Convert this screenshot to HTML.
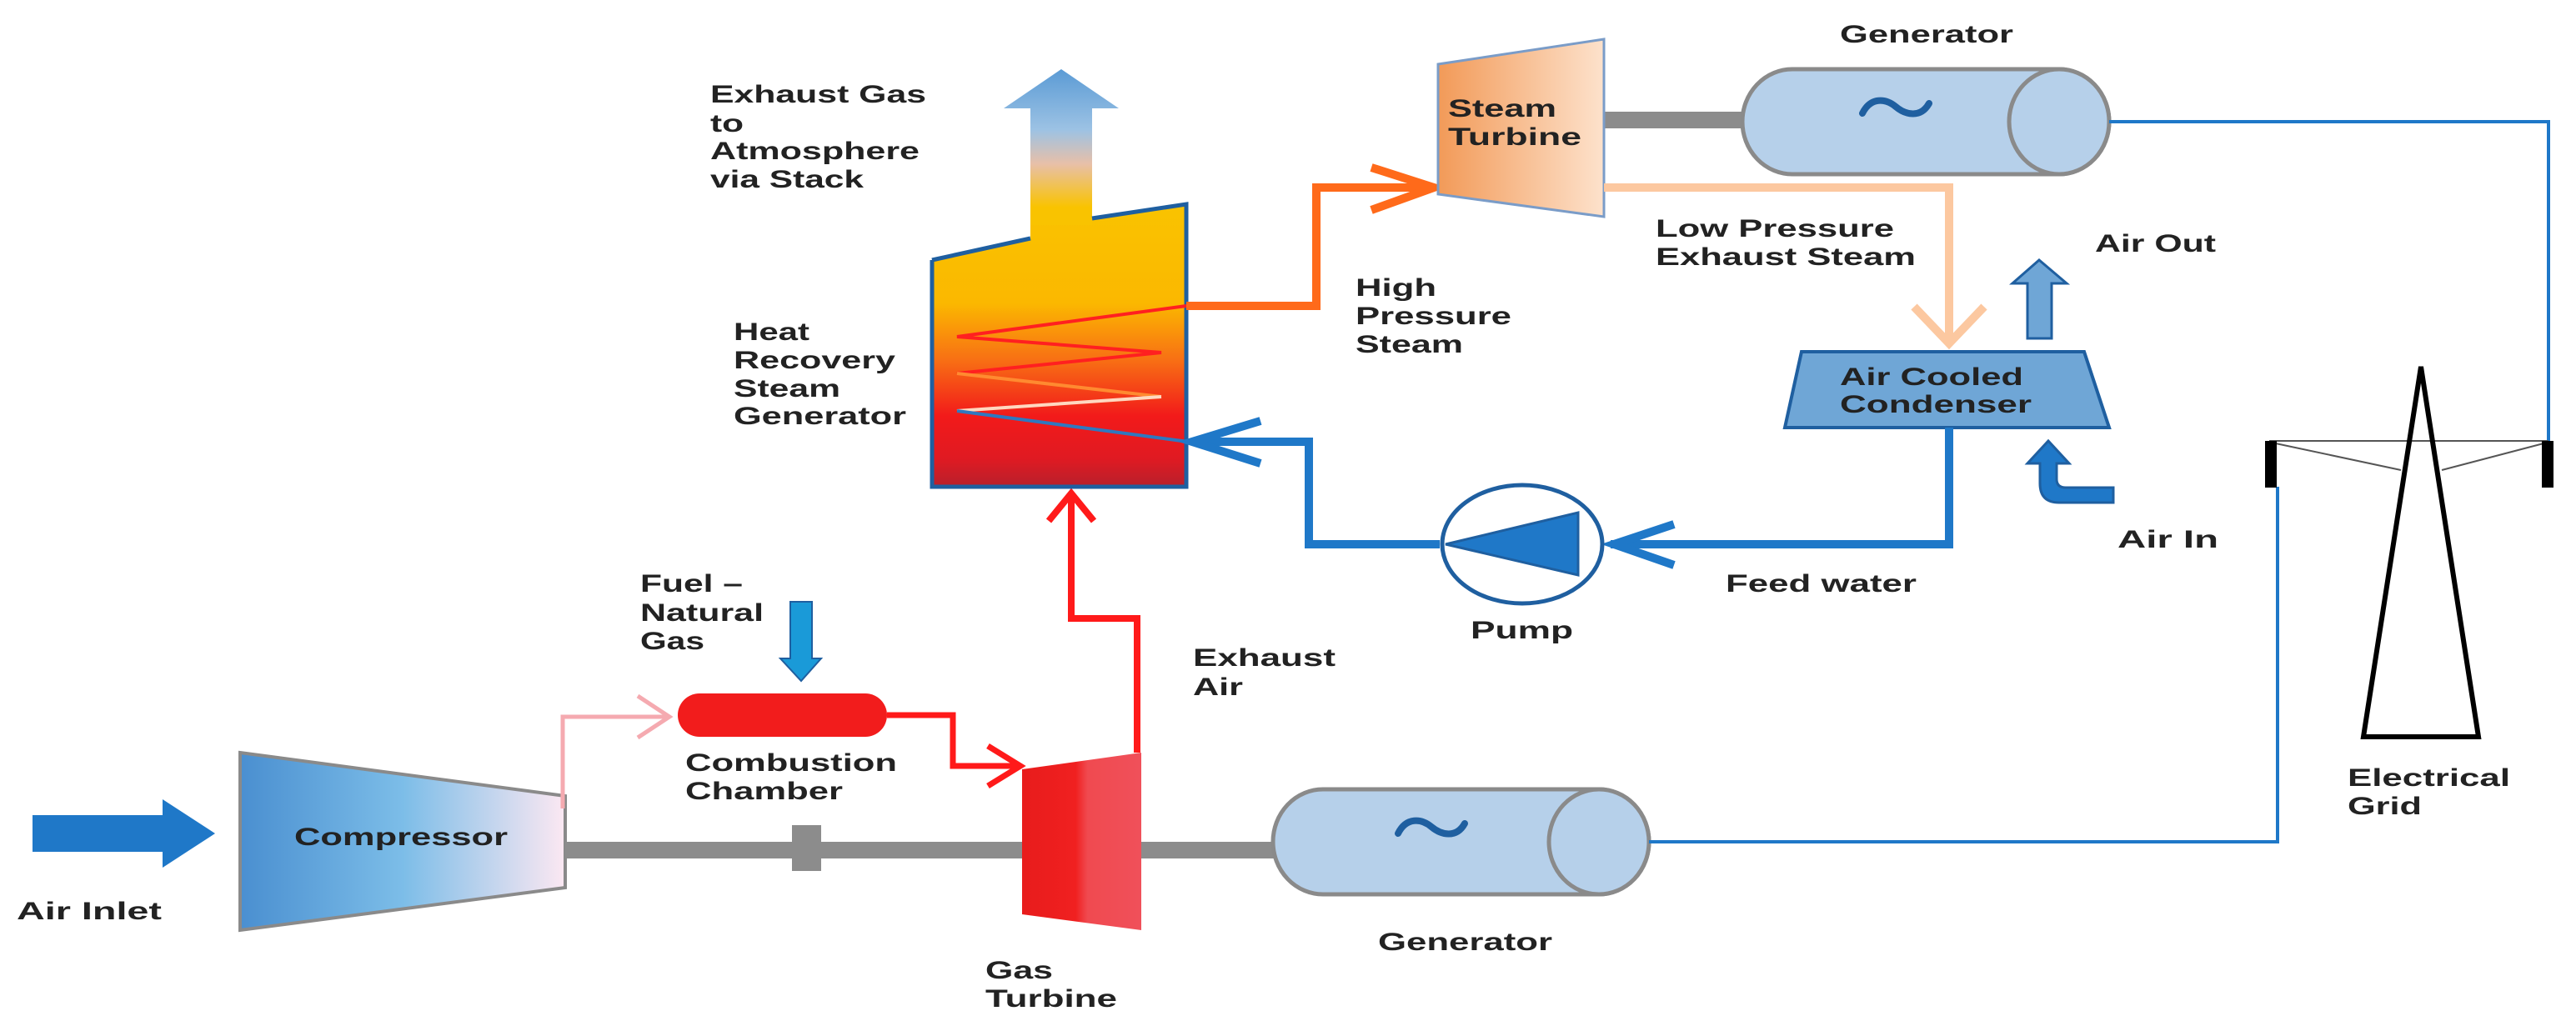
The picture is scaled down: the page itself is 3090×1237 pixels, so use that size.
<!DOCTYPE html>
<html><head><meta charset="utf-8"><style>
html,body{margin:0;padding:0;background:#fff;}
svg{display:block;}
text{font-family:"Liberation Sans",Arial,sans-serif;font-weight:bold;font-size:30px;fill:#222;}
</style></head><body>
<svg width="3090" height="1237" viewBox="0 0 3090 1237" xmlns="http://www.w3.org/2000/svg">
<defs>
<linearGradient id="hrsg" x1="0" y1="0" x2="0" y2="1">
<stop offset="0" stop-color="#f9c300"/><stop offset="0.35" stop-color="#fbb800"/>
<stop offset="0.55" stop-color="#f87014"/><stop offset="0.75" stop-color="#f21a1a"/>
<stop offset="0.9" stop-color="#e01a22"/><stop offset="1" stop-color="#b8202c"/></linearGradient>
<linearGradient id="stack" x1="0" y1="0" x2="0" y2="1">
<stop offset="0" stop-color="#5b9bd5"/><stop offset="0.35" stop-color="#9cc2e4"/>
<stop offset="0.55" stop-color="#e8c0a8"/><stop offset="0.8" stop-color="#f9c300"/><stop offset="1" stop-color="#f9c300"/></linearGradient>
<linearGradient id="comp" x1="0" y1="0" x2="1" y2="0">
<stop offset="0" stop-color="#4a8fd0"/><stop offset="0.5" stop-color="#7cbde8"/><stop offset="1" stop-color="#fce8f2"/></linearGradient>
<linearGradient id="gt" x1="0" y1="0" x2="1" y2="0">
<stop offset="0" stop-color="#e81c1c"/><stop offset="0.45" stop-color="#f02020"/><stop offset="0.55" stop-color="#f04a50"/><stop offset="1" stop-color="#f0505a"/></linearGradient>
<linearGradient id="st" x1="0" y1="0" x2="1" y2="0">
<stop offset="0" stop-color="#f29a58"/><stop offset="1" stop-color="#fde2cc"/></linearGradient>
</defs>

<polygon points="39,978 195,978 195,959 258,1000 195,1041 195,1022 39,1022" fill="#1f78c8"/>
<polygon points="288,903 678,955 678,1065 288,1116" fill="url(#comp)" stroke="#8a8a8a" stroke-width="4"/>
<rect x="678" y="1010" width="548" height="20" fill="#8c8c8c"/>
<rect x="950" y="990" width="35" height="55" fill="#8c8c8c"/>
<rect x="1369" y="1010" width="170" height="20" fill="#8c8c8c"/>
<rect x="1924" y="134" width="170" height="20" fill="#8c8c8c"/>
<polyline points="675,970 675,860 800,860" fill="none" stroke="#f5aab0" stroke-width="5"/>
<polyline points="765,835 803,860 765,885" fill="none" stroke="#f5aab0" stroke-width="5"/>
<rect x="813" y="832" width="251" height="52" rx="26" fill="#f21c1c"/>
<polygon points="948,722 974,722 974,790 985,790 961,817 936,790 948,790" fill="#1a9ad8" stroke="#1f5fa0" stroke-width="2"/>
<polyline points="1064,858 1143,858 1143,919 1222,919" fill="none" stroke="#ff1a1a" stroke-width="7"/>
<polyline points="1185,895 1224,919 1185,943" fill="none" stroke="#ff1a1a" stroke-width="7"/>
<polygon points="1226,923 1369,903 1369,1116 1226,1097" fill="url(#gt)"/>
<polyline points="1364,903 1364,742 1285,742 1285,592" fill="none" stroke="#ff1a1a" stroke-width="8"/>
<polyline points="1258,625 1285,592 1312,625" fill="none" stroke="#ff1a1a" stroke-width="8"/>
<polygon points="1236,290 1236,130 1204,130 1273,83 1342,130 1310,130 1310,270" fill="url(#stack)"/>
<polygon points="1118,312 1236,286 1236,270 1310,270 1310,262 1423,245 1423,584 1118,584" fill="url(#hrsg)"/>
<polyline points="1118,312 1236,286" stroke="#1f5fa0" stroke-width="5" fill="none"/>
<polyline points="1310,262 1423,245 1423,584 1118,584 1118,312" stroke="#1f5fa0" stroke-width="5" fill="none"/>
<polyline points="1423,367 1148,404 1393,423 1148,448" fill="none" stroke="#ff2020" stroke-width="4"/>
<polyline points="1148,448 1393,476" fill="none" stroke="#ff8a30" stroke-width="4"/>
<polyline points="1393,476 1148,493" fill="none" stroke="#ffd8c0" stroke-width="4"/>
<polyline points="1148,493 1425,530" fill="none" stroke="#2f78c0" stroke-width="4"/>
<polyline points="1423,367 1579,367 1579,225 1720,225" fill="none" stroke="#ff6a1a" stroke-width="10"/>
<polyline points="1645,201 1720,225 1645,252" fill="none" stroke="#ff6a1a" stroke-width="10"/>
<polygon points="1725,77 1924,47 1924,260 1725,233" fill="url(#st)" stroke="#7a9cc8" stroke-width="3"/>
<polyline points="1924,225 2338,225 2338,410" fill="none" stroke="#fcc8a0" stroke-width="10"/>
<polyline points="2296,368 2338,412 2380,368" fill="none" stroke="#fcc8a0" stroke-width="10"/>
<path d="M2150,83 L2470,83 A60,63 0 0 1 2470,209 L2150,209 A60,63 0 0 1 2150,83 Z" fill="#b6d0ea" stroke="#8a8a8a" stroke-width="5"/>
<ellipse cx="2470" cy="146" rx="60" ry="63" fill="#b6d0ea" stroke="#8a8a8a" stroke-width="5"/>
<path d="M2234,136 C2244,116 2262,118 2274,128 C2286,138 2304,142 2314,124" fill="none" stroke="#1f5fa0" stroke-width="8" stroke-linecap="round"/>
<path d="M1587,947 L1918,947 A60,63 0 0 1 1918,1073 L1587,1073 A60,63 0 0 1 1587,947 Z" fill="#b6d0ea" stroke="#8a8a8a" stroke-width="5"/>
<ellipse cx="1918" cy="1010" rx="60" ry="63" fill="#b6d0ea" stroke="#8a8a8a" stroke-width="5"/>
<path d="M1677,1000 C1687,980 1705,982 1717,992 C1729,1002 1747,1006 1757,988" fill="none" stroke="#1f5fa0" stroke-width="8" stroke-linecap="round"/>
<polyline points="2530,146 3057,146 3057,533" fill="none" stroke="#1f78c8" stroke-width="4"/>
<polyline points="1978,1010 2732,1010 2732,584" fill="none" stroke="#1f78c8" stroke-width="4"/>
<polygon points="2161,422 2500,422 2530,513 2141,513" fill="#6fa6d6" stroke="#1f5fa0" stroke-width="4"/>
<polygon points="2432,406 2432,340 2414,340 2446,312 2479,340 2461,340 2461,406" fill="#6fa6d6" stroke="#1f5fa0" stroke-width="3"/>
<path d="M2535,603 L2470,603 Q2447,603 2447,580 L2447,556 L2432,556 L2457,529 L2482,556 L2467,556 L2467,575 Q2467,585 2478,585 L2535,585 Z" fill="#1f78c8" stroke="#1f5fa0" stroke-width="3"/>
<polyline points="2338,513 2338,653 1932,653" fill="none" stroke="#1f78c8" stroke-width="10"/>
<polyline points="2008,629 1936,653 2008,678" fill="none" stroke="#1f78c8" stroke-width="10"/>
<polyline points="1727,653 1570,653 1570,530 1430,530" fill="none" stroke="#1f78c8" stroke-width="10"/>
<polyline points="1512,505 1430,530 1512,556" fill="none" stroke="#1f78c8" stroke-width="10"/>
<ellipse cx="1826" cy="653" rx="96" ry="71" fill="#fff" stroke="#1f5fa0" stroke-width="5"/>
<polygon points="1734,653 1893,615 1893,690" fill="#1f78c8" stroke="#1f5fa0" stroke-width="3"/>
<line x1="2722" y1="529" x2="3057" y2="529" stroke="#555" stroke-width="2"/>
<line x1="2725" y1="531" x2="2880" y2="564" stroke="#555" stroke-width="2"/>
<line x1="3055" y1="531" x2="2929" y2="564" stroke="#555" stroke-width="2"/>
<rect x="2717" y="529" width="14" height="56" fill="#000"/>
<rect x="3049" y="529" width="14" height="56" fill="#000"/>
<polygon points="2904,440 2973,884 2835,884" fill="none" stroke="#000" stroke-width="6"/>

<text x="852" y="123" textLength="259" lengthAdjust="spacingAndGlyphs">Exhaust Gas</text>
<text x="852" y="158" textLength="40" lengthAdjust="spacingAndGlyphs">to</text>
<text x="852" y="191" textLength="251" lengthAdjust="spacingAndGlyphs">Atmosphere</text>
<text x="852" y="225" textLength="184" lengthAdjust="spacingAndGlyphs">via Stack</text>
<text x="880" y="408" textLength="91" lengthAdjust="spacingAndGlyphs">Heat</text>
<text x="880" y="442" textLength="194" lengthAdjust="spacingAndGlyphs">Recovery</text>
<text x="880" y="476" textLength="128" lengthAdjust="spacingAndGlyphs">Steam</text>
<text x="880" y="509" textLength="207" lengthAdjust="spacingAndGlyphs">Generator</text>
<text x="768" y="710" textLength="123" lengthAdjust="spacingAndGlyphs">Fuel –</text>
<text x="768" y="745" textLength="148" lengthAdjust="spacingAndGlyphs">Natural</text>
<text x="768" y="779" textLength="77" lengthAdjust="spacingAndGlyphs">Gas</text>
<text x="822" y="925" textLength="254" lengthAdjust="spacingAndGlyphs">Combustion</text>
<text x="822" y="959" textLength="189" lengthAdjust="spacingAndGlyphs">Chamber</text>
<text x="353" y="1014" textLength="256" lengthAdjust="spacingAndGlyphs">Compressor</text>
<text x="20" y="1103" textLength="174" lengthAdjust="spacingAndGlyphs">Air  Inlet</text>
<text x="1182" y="1174" textLength="81" lengthAdjust="spacingAndGlyphs">Gas</text>
<text x="1182" y="1208" textLength="158" lengthAdjust="spacingAndGlyphs">Turbine</text>
<text x="1431" y="799" textLength="171" lengthAdjust="spacingAndGlyphs">Exhaust</text>
<text x="1431" y="834" textLength="60" lengthAdjust="spacingAndGlyphs">Air</text>
<text x="1737" y="140" textLength="130" lengthAdjust="spacingAndGlyphs">Steam</text>
<text x="1737" y="174" textLength="160" lengthAdjust="spacingAndGlyphs">Turbine</text>
<text x="2207" y="51" textLength="208" lengthAdjust="spacingAndGlyphs">Generator</text>
<text x="1986" y="284" textLength="286" lengthAdjust="spacingAndGlyphs">Low Pressure</text>
<text x="1986" y="318" textLength="312" lengthAdjust="spacingAndGlyphs">Exhaust Steam</text>
<text x="1626" y="355" textLength="97" lengthAdjust="spacingAndGlyphs">High</text>
<text x="1626" y="389" textLength="187" lengthAdjust="spacingAndGlyphs">Pressure</text>
<text x="1626" y="423" textLength="129" lengthAdjust="spacingAndGlyphs">Steam</text>
<text x="2513" y="302" textLength="145" lengthAdjust="spacingAndGlyphs">Air Out</text>
<text x="2207" y="462" textLength="220" lengthAdjust="spacingAndGlyphs">Air Cooled</text>
<text x="2207" y="495" textLength="230" lengthAdjust="spacingAndGlyphs">Condenser</text>
<text x="2540" y="657" textLength="121" lengthAdjust="spacingAndGlyphs">Air  In</text>
<text x="2070" y="710" textLength="229" lengthAdjust="spacingAndGlyphs">Feed water</text>
<text x="1764" y="766" textLength="123" lengthAdjust="spacingAndGlyphs">Pump</text>
<text x="1653" y="1140" textLength="209" lengthAdjust="spacingAndGlyphs">Generator</text>
<text x="2816" y="943" textLength="195" lengthAdjust="spacingAndGlyphs">Electrical</text>
<text x="2816" y="977" textLength="89" lengthAdjust="spacingAndGlyphs">Grid</text>
</svg>
</body></html>
